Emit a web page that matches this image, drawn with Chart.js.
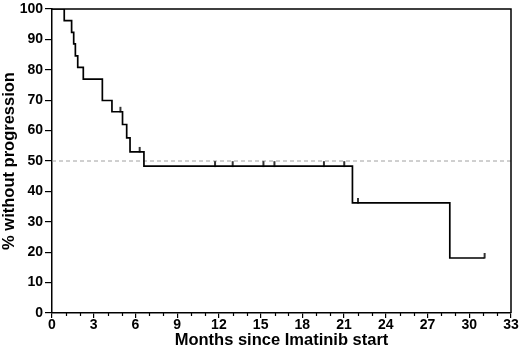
<!DOCTYPE html>
<html>
<head>
<meta charset="utf-8">
<script src="https://cdn.jsdelivr.net/npm/chart.js@4/dist/chart.umd.min.js"></script>
<style>
html,body{margin:0;padding:0;background:#fff;}
#wrap{width:520px;height:358px;position:relative;}
</style>
</head>
<body>
<div id="wrap"><canvas id="c" width="520" height="358"></canvas></div>
<script>
// Kaplan-Meier step curve (months, % without progression)
const eventTimes = [0, 0.88, 1.41, 1.56, 1.68, 1.85, 2.25, 3.62, 4.31, 5.07, 5.37, 5.61, 6.61, 21.6, 28.6, 31.1];
const survival   = [100, 96.2, 92.3, 88.5, 84.6, 80.8, 76.9, 69.9, 66.2, 62.0, 57.6, 53.0, 48.3, 36.2, 18.1, 18.1];
// Censored observations
const censorTimes = [4.92, 6.3, 11.72, 12.99, 15.2, 15.99, 19.55, 21.01, 22.0, 31.1];
const censorSurv  = [66.2, 53.0, 48.3, 48.3, 48.3, 48.3, 48.3, 48.3, 36.2, 18.1];
// Reference line
const refLevel = 50;
const xRange = [0, 33];
const yRange = [0, 100];
const xTitle = 'Months since Imatinib start';
const yTitle = '% without progression';

const FONT = '"Liberation Sans", Arial, Helvetica, sans-serif';

// censor mark: a short vertical line above the point
function makeCensorMark(){
  const cv = document.createElement('canvas');
  cv.width = 4; cv.height = 12;
  const g = cv.getContext('2d');
  g.strokeStyle = '#000';
  g.lineWidth = 1.6;
  g.beginPath();
  g.moveTo(2, 1);
  g.lineTo(2, 6.5);
  g.stroke();
  return cv;
}

const framePlugin = {
  id: 'frame',
  afterDraw(chart){
    const {ctx, chartArea: a, scales} = chart;
    ctx.save();
    ctx.strokeStyle = '#000';
    ctx.lineWidth = 1.5;
    ctx.beginPath();
    ctx.moveTo(a.left, a.top);
    ctx.lineTo(a.right, a.top);
    ctx.lineTo(a.right, a.bottom);
    ctx.stroke();
    // minor ticks on x axis
    const xs = scales.x;
    ctx.lineWidth = 1.2;
    ctx.beginPath();
    for(let v = xRange[0]; v <= xRange[1]; v++){
      if(v % 3 === 0) continue;
      const px = Math.round(xs.getPixelForValue(v)) + 0.5;
      ctx.moveTo(px, a.bottom);
      ctx.lineTo(px, a.bottom + 3);
    }
    ctx.stroke();
    ctx.restore();
  }
};

new Chart(document.getElementById('c'), {
  type: 'scatter',
  data: {
    datasets: [
      {
        label: 'KM',
        type: 'line',
        data: eventTimes.map((t,i)=>({x:t, y:survival[i]})),
        stepped: true,
        borderColor: '#000',
        borderWidth: 1.7,
        pointRadius: 0,
        fill: false,
        order: 1
      },
      {
        label: 'censored',
        data: censorTimes.map((t,i)=>({x:t, y:censorSurv[i]})),
        pointStyle: makeCensorMark(),
        pointRadius: 5,
        order: 0
      },
      {
        label: 'median',
        type: 'line',
        data: [{x:xRange[0], y:refLevel},{x:xRange[1], y:refLevel}],
        borderColor: '#a0a0a0',
        borderWidth: 1,
        borderDash: [4,3],
        pointRadius: 0,
        fill: false,
        order: 2
      }
    ]
  },
  options: {
    responsive: false,
    animation: false,
    layout: {padding: {top: 7, right: 9, left: 0, bottom: 0}},
    plugins: {legend: {display:false}, tooltip: {enabled:false}},
    scales: {
      x: {
        type: 'linear',
        min: xRange[0], max: xRange[1],
        afterFit(s){ s.height = 45; },
        border: {display:true, color:'#000', width:1.5},
        grid: {display:true, drawOnChartArea:false, drawTicks:true, tickLength:5, color:'#000', lineWidth:1.2},
        ticks: {stepSize:3, color:'#000', padding:0, maxRotation:0, font:{family:FONT, size:14, weight:'bold', lineHeight:1}},
        title: {display:true, text:xTitle, color:'#000', padding:{top:0,bottom:8}, font:{family:FONT, size:16.5, weight:'bold'}}
      },
      y: {
        type: 'linear',
        min: yRange[0], max: yRange[1],
        afterFit(s){ s.width = 52; },
        border: {display:true, color:'#000', width:1.5},
        grid: {display:true, drawOnChartArea:false, drawTicks:true, tickLength:7, color:'#000', lineWidth:1.2},
        ticks: {stepSize:10, color:'#000', padding:2, font:{family:FONT, size:14, weight:'bold', lineHeight:1}},
        title: {display:true, text:yTitle, color:'#000', padding:{top:0,bottom:0}, font:{family:FONT, size:16.5, weight:'bold'}}
      }
    }
  },
  plugins: [framePlugin]
});
</script>
</body>
</html>
